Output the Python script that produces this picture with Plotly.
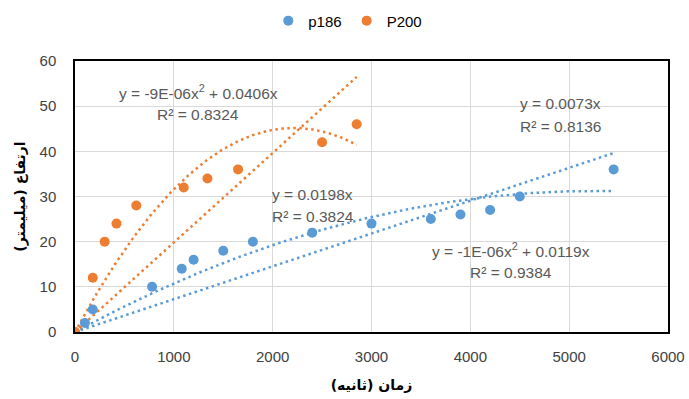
import numpy as np
import plotly.graph_objects as go

# data
p186_x = [0, 100, 180, 780, 1080, 1200, 1500, 1800, 2400, 3000, 3600, 3900, 4200, 4500, 5450]
p186_y = [0, 2, 5, 10, 14, 16, 18, 20, 22, 24, 25, 26, 27, 30, 36]
p200_x = [0, 180, 300, 420, 620, 1100, 1340, 1650, 2500, 2850]
p200_y = [0, 12, 20, 24, 28, 32, 34, 36, 42, 46]
x_ticks = [0, 1000, 2000, 3000, 4000, 5000, 6000]
y_ticks = [0, 10, 20, 30, 40, 50, 60]

BLUE = "#5B9BD5"
ORANGE = "#ED7D31"


def fit_origin(x, y, deg):
    x = np.asarray(x, float)
    y = np.asarray(y, float)
    A = np.column_stack([x ** k for k in range(deg, 0, -1)])
    coef, *_ = np.linalg.lstsq(A, y, rcond=None)
    xs = np.linspace(0, x.max(), 200)
    ys = sum(c * xs ** k for c, k in zip(coef, range(deg, 0, -1)))
    return xs, ys


fig = go.Figure()

for xs_, ys_, col in [(p186_x, p186_y, BLUE), (p200_x, p200_y, ORANGE)]:
    for deg in (1, 2):
        fx, fy = fit_origin(xs_, ys_, deg)
        fig.add_trace(go.Scatter(x=fx, y=fy, mode="lines", showlegend=False, hoverinfo="skip",
                                 line=dict(color=col, width=2.5, dash="2.5px,3.5px")))

fig.add_trace(go.Scatter(x=p186_x, y=p186_y, mode="markers", name="p186",
                         marker=dict(color=BLUE, size=10)))
fig.add_trace(go.Scatter(x=p200_x, y=p200_y, mode="markers", name="P200",
                         marker=dict(color=ORANGE, size=10)))

ann_font = dict(family="Liberation Sans, DejaVu Sans", size=15.5, color="#595959")
labels = [
    (0.208, 0.886, "y = -9E-06x<sup>2</sup> + 0.0406x"),
    (0.208, 0.801, "R² = 0.8324"),
    (0.401, 0.506, "y = 0.0198x"),
    (0.401, 0.428, "R² = 0.3824"),
    (0.818, 0.845, "y = 0.0073x"),
    (0.818, 0.760, "R² = 0.8136"),
    (0.735, 0.303, "y = -1E-06x<sup>2</sup> + 0.0119x"),
    (0.735, 0.218, "R² = 0.9384"),
]
for x, y, t in labels:
    fig.add_annotation(x=x, y=y, xref="paper", yref="paper", text=t, showarrow=False,
                       font=ann_font, xanchor="center", yanchor="middle")

axis_common = dict(showgrid=True, gridcolor="#D9D9D9", gridwidth=1, showline=True,
                   linecolor="#000000", linewidth=1.5, mirror=True, zeroline=False,
                   ticks="", tickfont=dict(family="Liberation Sans", size=15, color="#404040"))

fig.update_layout(
    width=689, height=399,
    margin=dict(l=75, r=21, t=61, b=67, autoexpand=False),
    plot_bgcolor="white", paper_bgcolor="white",
    xaxis=dict(range=[0, 6000], tickvals=x_ticks, ticklabelstandoff=10, **axis_common,
               title=dict(text="<b>زمان (ثانیه)</b>", font=dict(family="DejaVu Sans", size=14, color="#000"),
                          standoff=16)),
    yaxis=dict(range=[0, 60], tickvals=y_ticks, ticklabelstandoff=14, **axis_common,
               title=dict(text="<b>ارتفاع (میلیمتر)</b>", font=dict(family="DejaVu Sans", size=14, color="#000"),
                          standoff=11)),
    legend=dict(orientation="h", x=0.46, xanchor="center", y=1.148, yanchor="middle",
                font=dict(family="Liberation Sans", size=15, color="#000"),
                itemwidth=30, tracegroupgap=0),
)

fig.write_html("out.html", config={"displayModeBar": False},
               post_script="document.body.style.margin='0px';")
